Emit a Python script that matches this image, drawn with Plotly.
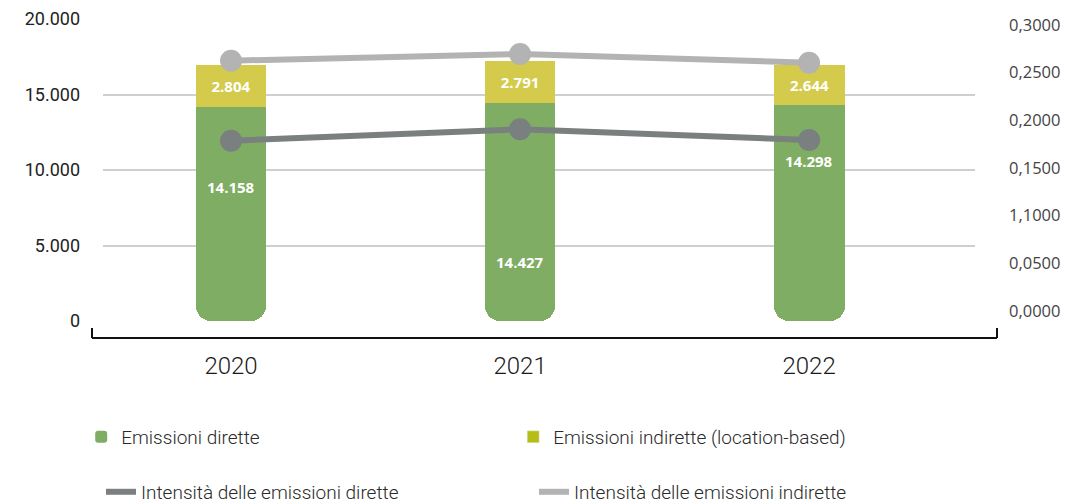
import plotly.graph_objects as go

# --- data -------------------------------------------------------------
years = ["2020", "2021", "2022"]
direct_emissions = [14158, 14427, 14298]
indirect_emissions = [2804, 2791, 2644]
direct_intensity = [0.1786, 0.1906, 0.1794]
indirect_intensity = [0.2626, 0.2696, 0.2605]

left_ticks = [0, 5000, 10000, 15000, 20000]
left_tick_text = ["0", "5.000", "10.000", "15.000", "20.000"]
right_ticks = [0, 0.05, 0.10, 0.15, 0.20, 0.25, 0.30]
right_tick_text = ["0,0000", "0,0500", "1,1000", "0,1500", "0,2000", "0,2500", "0,3000"]

# --- styling ----------------------------------------------------------
GREEN = "#7fad63"
YELLOW = "#d4cb4c"
YELLOW_KEY = "#b6bd14"
DARK = "#7a7f80"
LIGHT = "#b3b3b3"
LIGHTFONT = "Roboto, Open Sans, sans-serif"
REGULAR = "Open Sans, Noto Sans, sans-serif"
BAR_W = 0.245

# vertical placement of the white labels on the green bars (axis units)
direct_label_y = [8870, 3910, 10600]


def it_num(v):
    return f"{v:,}".replace(",", ".")


xs = list(range(len(years)))

fig = go.Figure()

# green bars hang down from their top so the rounded end sits at zero
fig.add_trace(go.Bar(
    x=xs, y=[-v for v in direct_emissions], base=direct_emissions,
    width=BAR_W, marker=dict(color=GREEN, cornerradius=15, line=dict(width=0)),
    name="Emissioni dirette", legend="legend", hoverinfo="skip",
))
# square-cornered upper half of the same bars
fig.add_trace(go.Bar(
    x=xs, y=[v / 2 for v in direct_emissions], base=[v / 2 for v in direct_emissions],
    width=BAR_W, marker=dict(color=GREEN, cornerradius=0, line=dict(width=0)),
    showlegend=False, hoverinfo="skip",
))
fig.add_trace(go.Bar(
    x=xs, y=indirect_emissions, base=direct_emissions,
    width=BAR_W, marker=dict(color=YELLOW, cornerradius=0, line=dict(width=0)),
    text=[it_num(v) for v in indirect_emissions], textposition="inside",
    insidetextanchor="middle",
    textfont=dict(family=REGULAR, size=15, color="white", weight="bold"),
    showlegend=False, hoverinfo="skip",
))
# legend key for the indirect emissions
fig.add_trace(go.Bar(
    x=[None], y=[None], marker=dict(color=YELLOW_KEY),
    name="Emissioni indirette (location-based)", legend="legend",
))

# intensity lines on the secondary axis
for vals, col, nm in [
    (direct_intensity, DARK, "Intensità delle emissioni dirette"),
    (indirect_intensity, LIGHT, "Intensità delle emissioni indirette"),
]:
    fig.add_trace(go.Scatter(
        x=xs, y=vals, yaxis="y2", mode="lines",
        line=dict(color=col, width=6), name=nm, legend="legend2",
        hoverinfo="skip",
    ))
    fig.add_trace(go.Scatter(
        x=xs, y=vals, yaxis="y2", mode="markers",
        marker=dict(color=col, size=22, line=dict(width=0)),
        showlegend=False, hoverinfo="skip",
    ))

for x, v, yl in zip(xs, direct_emissions, direct_label_y):
    fig.add_annotation(
        x=x, y=yl, text=it_num(v), showarrow=False,
        font=dict(family=REGULAR, size=15, color="white", weight="bold"),
    )

# bracket under the plot
bracket = dict(type="line", xref="paper", yref="paper",
               line=dict(color="#111111", width=2))
fig.add_shape(x0=-0.0126, x1=1.0252, y0=-0.0563, y1=-0.0563, **bracket)
fig.add_shape(x0=-0.0126, x1=-0.0126, y0=-0.0563, y1=-0.0232, **bracket)
fig.add_shape(x0=1.0252, x1=1.0252, y0=-0.0563, y1=-0.0232, **bracket)

fig.update_layout(
    width=1071, height=503,
    margin=dict(l=103, r=96, t=19, b=182, autoexpand=False),
    paper_bgcolor="white", plot_bgcolor="white",
    barmode="overlay", bargap=0,
    xaxis=dict(
        range=[-0.443, 2.574], tickvals=xs, ticktext=years,
        showgrid=False, zeroline=False, showline=False, ticks="",
        tickfont=dict(family=LIGHTFONT, size=24, color="#1a1a1a", weight=300),
        ticklabelstandoff=28,
    ),
    yaxis=dict(
        range=[0, 20000], tickvals=left_ticks, ticktext=left_tick_text,
        showgrid=True, gridcolor="#cfcfcf", gridwidth=1.5,
        zeroline=False, showline=False, ticks="",
        tickfont=dict(family=LIGHTFONT, size=18, color="#222222", weight=400),
        ticklabelstandoff=22,
    ),
    yaxis2=dict(
        overlaying="y", side="right", range=[-0.0105, 0.3063],
        tickvals=right_ticks, ticktext=right_tick_text,
        showgrid=False, zeroline=False, showline=False, ticks="",
        tickfont=dict(family=REGULAR, size=16.5, color="#444444"),
        ticklabelstandoff=33,
    ),
    legend=dict(
        orientation="h", x=-0.025, xanchor="left", y=-0.384, yanchor="middle",
        entrywidth=387, entrywidthmode="pixels", traceorder="normal",
        font=dict(family=LIGHTFONT, size=19, color="#2a2a2a", weight=300),
        bgcolor="rgba(0,0,0,0)",
    ),
    legend2=dict(
        orientation="h", x=-0.0023, xanchor="left", y=-0.566, yanchor="middle",
        entrywidth=388, entrywidthmode="pixels", traceorder="normal",
        font=dict(family=LIGHTFONT, size=19, color="#2a2a2a", weight=300),
        bgcolor="rgba(0,0,0,0)",
    ),
    showlegend=True,
)

fig.write_html("out.html")
